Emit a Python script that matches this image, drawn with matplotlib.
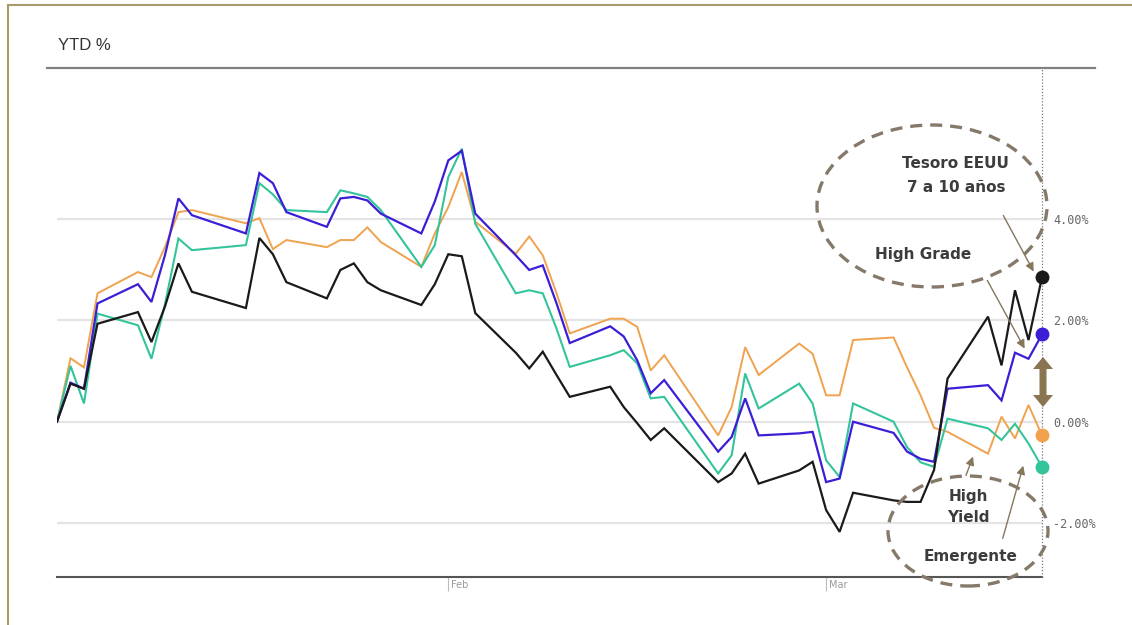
import matplotlib
matplotlib.use("Agg")
import matplotlib.pyplot as plt
import matplotlib.transforms as mtransforms
from matplotlib.patches import Ellipse, FancyArrowPatch, Polygon
from matplotlib.lines import Line2D
import pandas as pd

# Trading days, year to date
dates = [
    "2017-01-03", "2017-01-04", "2017-01-05", "2017-01-06", "2017-01-09", "2017-01-10",
    "2017-01-11", "2017-01-12", "2017-01-13", "2017-01-17", "2017-01-18", "2017-01-19",
    "2017-01-20", "2017-01-23", "2017-01-24", "2017-01-25", "2017-01-26", "2017-01-27",
    "2017-01-30", "2017-01-31", "2017-02-01", "2017-02-02", "2017-02-03", "2017-02-06",
    "2017-02-07", "2017-02-08", "2017-02-09", "2017-02-10", "2017-02-13", "2017-02-14",
    "2017-02-15", "2017-02-16", "2017-02-17", "2017-02-21", "2017-02-22", "2017-02-23",
    "2017-02-24", "2017-02-27", "2017-02-28", "2017-03-01", "2017-03-02", "2017-03-03",
    "2017-03-06", "2017-03-07", "2017-03-08", "2017-03-09", "2017-03-10", "2017-03-13",
    "2017-03-14", "2017-03-15", "2017-03-16", "2017-03-17",
]

# YTD return, %
tesoro = [
    0.00, 0.75, 0.65, 1.93, 2.16, 1.57, 2.27, 3.12, 2.56, 2.24, 3.62, 3.30,
    2.75, 2.43, 2.99, 3.12, 2.75, 2.59, 2.30, 2.71, 3.30, 3.26, 2.14, 1.36,
    1.05, 1.38, 0.93, 0.49, 0.69, 0.29, -0.03, -0.36, -0.13, -1.19, -1.02, -0.63,
    -1.22, -0.96, -0.79, -1.74, -2.17, -1.40, -1.55, -1.58, -1.58, -0.95, 0.85, 2.07,
    1.11, 2.59, 1.61, 2.85,
]
high_grade = [
    0.00, 0.77, 0.65, 2.33, 2.71, 2.36, 3.28, 4.40, 4.07, 3.71, 4.90, 4.70,
    4.13, 3.84, 4.40, 4.43, 4.36, 4.10, 3.71, 4.34, 5.15, 5.34, 4.10, 3.28,
    2.99, 3.08, 2.35, 1.55, 1.88, 1.68, 1.21, 0.56, 0.82, -0.59, -0.30, 0.46,
    -0.27, -0.23, -0.20, -1.19, -1.12, 0.00, -0.22, -0.59, -0.73, -0.79, 0.65, 0.72,
    0.42, 1.36, 1.24, 1.72,
]
emergente = [
    0.00, 1.10, 0.36, 2.13, 1.90, 1.24, 2.31, 3.61, 3.38, 3.48, 4.70, 4.48,
    4.17, 4.13, 4.56, 4.50, 4.43, 4.17, 3.05, 3.48, 4.82, 5.38, 3.90, 2.53,
    2.59, 2.53, 1.85, 1.08, 1.31, 1.41, 1.15, 0.46, 0.49, -1.02, -0.66, 0.95,
    0.26, 0.75, 0.36, -0.76, -1.09, 0.36, 0.00, -0.50, -0.80, -0.89, 0.06, -0.13,
    -0.36, -0.04, -0.43, -0.89,
]
high_yield = [
    0.00, 1.25, 1.07, 2.53, 2.95, 2.85, 3.44, 4.13, 4.17, 3.91, 4.01, 3.40,
    3.58, 3.44, 3.58, 3.58, 3.83, 3.54, 3.05, 3.71, 4.23, 4.92, 3.94, 3.31,
    3.65, 3.28, 2.55, 1.74, 2.03, 2.03, 1.87, 1.01, 1.31, -0.27, 0.29, 1.47,
    0.92, 1.54, 1.34, 0.52, 0.52, 1.61, 1.66, 1.07, 0.52, -0.12, -0.20, -0.63,
    0.10, -0.33, 0.33, -0.27,
]

y_ticks = [-2, 0, 2, 4]
y_tick_labels = ["-2.00%", "0.00%", "2.00%", "4.00%"]
x_ticks = ["2017-02-01", "2017-03-01"]
x_tick_labels = ["Feb", "Mar"]

W, H = 1132, 625
fig = plt.figure(figsize=(W / 100, H / 100), dpi=100)
fig.patch.set_facecolor("white")


def fx(px):
    return px / W


def fy(py):
    return 1 - py / H


ax = fig.add_axes([fx(57), fy(577), fx(1042) - fx(57), fy(68) - fy(577)])
x = pd.to_datetime(dates)

series = [
    (high_yield, "#f0a24e", 1.4),
    (emergente, "#34c49c", 1.5),
    (high_grade, "#3a1fd6", 1.6),
    (tesoro, "#1a1a1a", 1.6),
]
for vals, col, lw in series:
    ax.plot(x, vals, color=col, lw=lw, solid_joinstyle="miter", zorder=3)
    ax.plot(x[-1], vals[-1], "o", color=col, ms=9, zorder=5, clip_on=False)

ax.set_xlim(x[0], x[-1])
ax.set_ylim(-3.06, 6.97)

for s in ["top", "left", "right"]:
    ax.spines[s].set_visible(False)
ax.spines["bottom"].set_color("#555555")
ax.spines["bottom"].set_linewidth(1.5)

ax.set_yticks(y_ticks)
ax.set_yticklabels(y_tick_labels, family="DejaVu Sans Mono", fontsize=8.5, color="#666666")
ax.yaxis.tick_right()
ax.tick_params(axis="y", length=0, pad=8)
for lab in ax.get_yticklabels():
    lab.set_horizontalalignment("left")
ax.grid(axis="y", color="#e4e4e4", lw=1.6, zorder=0)

ax.set_xticks(pd.to_datetime(x_ticks))
ax.set_xticklabels(x_tick_labels, fontsize=7, color="#999999")
ax.tick_params(axis="x", length=10, width=0.8, color="#bbbbbb", pad=-8)
off = mtransforms.ScaledTranslation(3 / 100, 0, fig.dpi_scale_trans)
for lab in ax.get_xticklabels():
    lab.set_horizontalalignment("left")
    lab.set_transform(lab.get_transform() + off)

# Dotted marker for the latest date
ax.axvline(x[-1], color="#777777", ls=(0, (1, 1.5)), lw=0.9, zorder=4, clip_on=False)

# Header rule and title
fig.add_artist(Line2D([fx(47), fx(1095)], [fy(68), fy(68)], color="#808080", lw=1.6))
fig.text(fx(58), fy(45), "YTD %", family="Liberation Sans", fontsize=12,
         color="#333333", va="center", ha="left")

# Outer frame (left and top edges)
frame_col = "#a89b6c"
fig.add_artist(Line2D([fx(8), fx(8)], [fy(5), 0], color=frame_col, lw=1.5))
fig.add_artist(Line2D([fx(8), 1], [fy(5), fy(5)], color=frame_col, lw=1.5))

# Annotation ellipses
ell_col = "#85796a"
for cx, cy, ew, eh in [(932, 206, 230, 162), (968, 531, 160, 110)]:
    fig.add_artist(Ellipse((fx(cx), fy(cy)), ew / W, eh / H, fill=False,
                           edgecolor=ell_col, lw=2.4, ls=(0, (3.6, 2.4)),
                           transform=fig.transFigure, zorder=6))

txt_kw = dict(family="DejaVu Sans", fontweight="bold", fontsize=11,
              color="#3c3c3c", ha="center", va="center", zorder=7)
fig.text(fx(955), fy(164), "Tesoro EEUU", **txt_kw)
fig.text(fx(956), fy(187), "7 a 10 años", **txt_kw)
fig.text(fx(923), fy(254), "High Grade", **txt_kw)
fig.text(fx(968), fy(496), "High", **txt_kw)
fig.text(fx(968), fy(517), "Yield", **txt_kw)
fig.text(fx(971), fy(557), "Emergente", **txt_kw)

arrow_col = "#84775a"
for (x0, y0), (x1, y1) in [
    ((1002, 213), (1035, 274)),
    ((986, 278), (1026, 351)),
    ((965, 478), (974, 454)),
    ((1002, 541), (1024, 463)),
]:
    fig.add_artist(FancyArrowPatch(
        (fx(x0), fy(y0)), (fx(x1), fy(y1)), transform=fig.transFigure,
        arrowstyle="-|>,head_length=5,head_width=2.5", color=arrow_col, lw=1.0,
        zorder=7))

# Double-headed spread arrow between the two groups
ax_c, top, bot = 1043, 357, 407
sw, hw, hl = 3.5, 10, 12
pts = [
    (ax_c, top), (ax_c + hw, top + hl), (ax_c + sw, top + hl),
    (ax_c + sw, bot - hl), (ax_c + hw, bot - hl), (ax_c, bot),
    (ax_c - hw, bot - hl), (ax_c - sw, bot - hl), (ax_c - sw, top + hl),
    (ax_c - hw, top + hl),
]
fig.add_artist(Polygon([(fx(px), fy(py)) for px, py in pts], closed=True,
                       transform=fig.transFigure, facecolor="#8a7552",
                       edgecolor="none", zorder=7))

fig.savefig("out.png", dpi=100, facecolor="white")
